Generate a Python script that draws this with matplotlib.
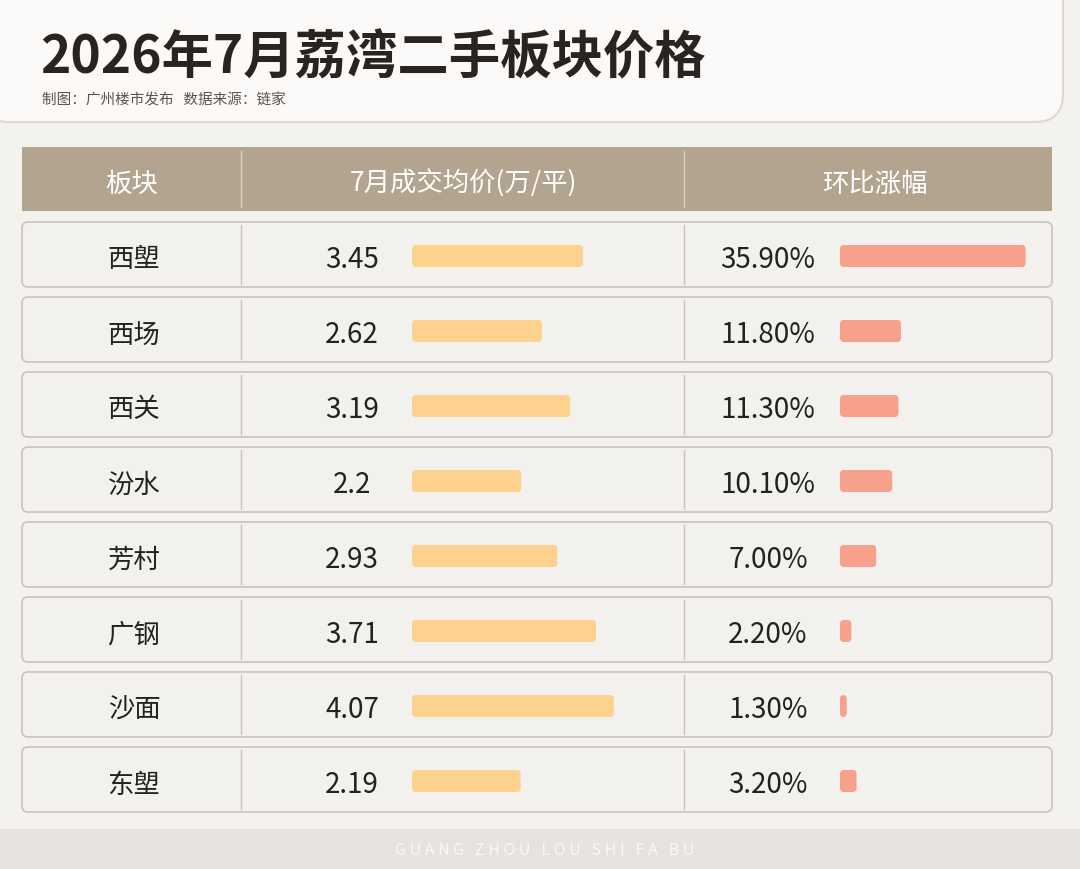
import matplotlib.pyplot as plt
from matplotlib.patches import FancyBboxPatch, Rectangle

plt.rcParams['font.family'] = ['Noto Sans CJK SC', 'DejaVu Sans']

title = '2026年7月荔湾二手板块价格'
subtitle = '制图：广州楼市发布   数据来源：链家'
headers = ['板块', '7月成交均价(万/平)', '环比涨幅']
areas = ['西塱', '西场', '西关', '汾水', '芳村', '广钢', '沙面', '东塱']
prices = [3.45, 2.62, 3.19, 2.2, 2.93, 3.71, 4.07, 2.19]
changes = [35.90, 11.80, 11.30, 10.10, 7.00, 2.20, 1.30, 3.20]
price_labels = ['3.45', '2.62', '3.19', '2.2', '2.93', '3.71', '4.07', '2.19']
footer = 'G U A N G   Z H O U   L O U   S H I   F A   B U'

fig = plt.figure(figsize=(10.8, 8.7), dpi=100)
ax = fig.add_axes([0, 0, 1, 1])
ax.set_xlim(0, 1080)
ax.set_ylim(870, 0)
ax.axis('off')
fig.patch.set_facecolor('#f4f2ef')

# title card
ax.add_patch(FancyBboxPatch((-20, -30), 1083, 153, boxstyle='round,pad=0,rounding_size=28',
                            fc='#fbfaf8', ec='#dcd8d2', lw=1.5))
ax.text(40, 58, title, fontsize=37, fontweight='bold', color='#2a2420', va='center')
ax.text(42, 100, subtitle, fontsize=10.5, color='#5a5450', va='center')

# header
ax.add_patch(Rectangle((22, 148), 1030, 64, fc='#b3a48f', ec='none'))
for x in (241, 684):
    ax.plot([x, x], [152, 208], color='#d8cfc2', lw=1)
for x, h in zip((132, 463, 875), headers):
    ax.text(x, 184, h, fontsize=19, color='white', ha='center', va='center')

price_scale = 49.6
change_scale = 5.17
for i, (a, p, pl, c) in enumerate(zip(areas, prices, price_labels, changes)):
    top = 223 + i * 75
    mid = top + 34
    ax.add_patch(FancyBboxPatch((22, top), 1030, 65, boxstyle='round,pad=0,rounding_size=6',
                                fc='#f3f1ee', ec='#c8c3bd', lw=1.2))
    for x in (241, 684):
        ax.plot([x, x], [top + 3, top + 62], color='#c8c3bd', lw=1)
    ax.text(134, mid + 3, a, fontsize=19, color='#222', ha='center', va='center')
    ax.text(352, mid + 3, pl, fontsize=20, color='#222', ha='center', va='center')
    ax.add_patch(FancyBboxPatch((412, mid - 11), p * price_scale, 22,
                                boxstyle='round,pad=0,rounding_size=4', fc='#fcd28e', ec='none'))
    ax.text(768, mid + 3, f'{c:.2f}%', fontsize=20, color='#222', ha='center', va='center')
    ax.add_patch(FancyBboxPatch((840, mid - 11), c * change_scale, 22,
                                boxstyle='round,pad=0,rounding_size=4', fc='#f7a08c', ec='none'))

# footer band
ax.add_patch(Rectangle((0, 830), 1080, 40, fc='#e6e2de', ec='none'))
ax.text(545, 851, footer, fontsize=11.5, color='#f9f8f6', ha='center', va='center')

fig.savefig('out.png', dpi=100, facecolor=fig.get_facecolor())
